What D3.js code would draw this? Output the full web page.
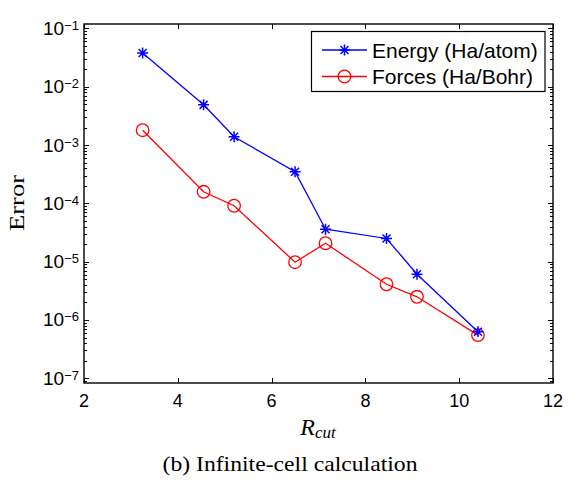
<!DOCTYPE html>
<html>
  <head>
    <meta charset="utf-8">
    <title>Infinite-cell calculation</title>
    <script src="https://d3js.org/d3.v7.min.js"></script>
    <style>
      body { margin: 0; background: #fff; }
      svg { display: block; }
    </style>
  </head>
  <body>
    <script>
      // data
      var rcut = [3.25, 4.55, 5.2, 6.5, 7.15, 8.45, 9.1, 10.4];
      var energyErr = [3.8e-2, 4.9e-3, 1.39e-3, 3.5e-4, 3.6e-5, 2.5e-5, 6.1e-6, 6.3e-7];
      var forceErr = [1.8e-3, 1.58e-4, 9.1e-5, 9.8e-6, 2.07e-5, 4.1e-6, 2.5e-6, 5.5e-7];
      var seriesNames = ["Energy (Ha/atom)", "Forces (Ha/Bohr)"];
      var xTicks = [2, 4, 6, 8, 10, 12];
      var yExponents = [-1, -2, -3, -4, -5, -6, -7];

      var width = 577, height = 482;
      // plot box (window.top is taken, so no bare "top")
      var box = {left: 84, right: 553, top: 24, bottom: 383};
      var sans = "Liberation Sans, Arial, Helvetica, sans-serif";
      var serif = "Liberation Serif, Times New Roman, serif";

      var svg = d3.select("body").append("svg")
        .attr("width", width)
        .attr("height", height);

      var x = d3.scaleLinear().domain([2, 12]).range([box.left, box.right]);
      var y = d3.scaleLog().domain([Math.pow(10, -7.081), Math.pow(10, -0.923)]).range([box.bottom, box.top]);

      // ticks, all pointing inwards like matlab
      var tickG = svg.append("g").attr("stroke", "#000").attr("stroke-width", 1);
      xTicks.forEach(function(t) {
        var px = Math.round(x(t)) + 0.5;
        tickG.append("line").attr("x1", px).attr("x2", px).attr("y1", box.bottom).attr("y2", box.bottom - 5);
        tickG.append("line").attr("x1", px).attr("x2", px).attr("y1", box.top).attr("y2", box.top + 5);
      });
      var minor = [];
      for (var e = -8; e <= -1; e++) {
        for (var m = 1; m < 10; m++) {
          var v = m * Math.pow(10, e);
          if (v >= y.domain()[0] && v <= y.domain()[1]) minor.push({v: v, major: m == 1});
        }
      }
      minor.forEach(function(d) {
        var py = Math.round(y(d.v)) + 0.5;
        var len = d.major ? 5 : 3;
        tickG.append("line").attr("x1", box.left).attr("x2", box.left + len).attr("y1", py).attr("y2", py);
        tickG.append("line").attr("x1", box.right).attr("x2", box.right - len).attr("y1", py).attr("y2", py);
      });

      // frame
      svg.append("rect")
        .attr("x", box.left).attr("y", box.top)
        .attr("width", box.right - box.left).attr("height", box.bottom - box.top)
        .attr("fill", "none").attr("stroke", "#000").attr("stroke-width", 1.4);

      // tick labels
      svg.selectAll(".xlab").data(xTicks).enter().append("text")
        .attr("class", "xlab")
        .attr("x", function(d) { return x(d); })
        .attr("y", box.bottom + 24)
        .attr("text-anchor", "middle")
        .attr("font-family", sans).attr("font-size", 18)
        .text(function(d) { return d; });

      yExponents.forEach(function(ex) {
        var t = svg.append("text")
          .attr("x", 79)
          .attr("y", y(Math.pow(10, ex)) + 6.5)
          .attr("text-anchor", "end")
          .attr("font-family", sans);
        t.append("tspan").attr("font-size", 19).text("10");
        t.append("tspan").attr("font-size", 13).attr("dy", -5).text("\u2212" + (-ex));
      });

      // series
      var energy = rcut.map(function(r, i) { return [r, energyErr[i]]; });
      var forces = rcut.map(function(r, i) { return [r, forceErr[i]]; });
      var line = d3.line().x(function(d) { return x(d[0]); }).y(function(d) { return y(d[1]); });

      function star(g, cx, cy, color) {
        var s = 5.5, k = 4;
        g.append("path")
          .attr("d", "M" + (cx - s) + "," + cy + "H" + (cx + s) +
                     "M" + cx + "," + (cy - s) + "V" + (cy + s) +
                     "M" + (cx - k) + "," + (cy - k) + "L" + (cx + k) + "," + (cy + k) +
                     "M" + (cx - k) + "," + (cy + k) + "L" + (cx + k) + "," + (cy - k))
          .attr("stroke", color).attr("stroke-width", 1.5).attr("fill", "none");
      }
      function circle(g, cx, cy, color) {
        g.append("circle").attr("cx", cx).attr("cy", cy).attr("r", 6.3)
          .attr("fill", "none").attr("stroke", color).attr("stroke-width", 1.3);
      }

      var plot = svg.append("g");
      plot.append("path").datum(forces).attr("d", line)
        .attr("fill", "none").attr("stroke", "#ff0000").attr("stroke-width", 1.3);
      forces.forEach(function(d) { circle(plot, x(d[0]), y(d[1]), "#ff0000"); });
      plot.append("path").datum(energy).attr("d", line)
        .attr("fill", "none").attr("stroke", "#0000ff").attr("stroke-width", 1.3);
      energy.forEach(function(d) { star(plot, x(d[0]), y(d[1]), "#0000ff"); });

      // legend
      var lg = svg.append("g");
      lg.append("rect").attr("x", 311.5).attr("y", 31.5).attr("width", 233.5).attr("height", 60)
        .attr("fill", "#fff").attr("stroke", "#000").attr("stroke-width", 1.2);
      var legendRows = [
        {name: seriesNames[0], color: "#0000ff", mark: star, y: 50},
        {name: seriesNames[1], color: "#ff0000", mark: circle, y: 76.5}
      ];
      legendRows.forEach(function(r) {
        lg.append("line").attr("x1", 322).attr("x2", 367).attr("y1", r.y).attr("y2", r.y)
          .attr("stroke", r.color).attr("stroke-width", 1.3);
        r.mark(lg, 344.5, r.y, r.color);
        lg.append("text").attr("x", 372).attr("y", r.y + 7.5)
          .attr("font-family", sans).attr("font-size", 21)
          .text(r.name);
      });

      // axis labels
      svg.append("text")
        .attr("transform", "translate(24,203) rotate(-90)")
        .attr("text-anchor", "middle")
        .attr("font-family", serif).attr("font-size", 21)
        .attr("textLength", 56).attr("lengthAdjust", "spacingAndGlyphs")
        .text("Error");

      var xl = svg.append("text")
        .attr("x", 318).attr("y", 435)
        .attr("text-anchor", "middle")
        .attr("font-family", serif).attr("font-style", "italic");
      xl.append("tspan").attr("font-size", 24).text("R");
      xl.append("tspan").attr("font-size", 17).attr("dy", 3).text("cut");

      svg.append("text")
        .attr("x", 290).attr("y", 471)
        .attr("text-anchor", "middle")
        .attr("font-family", serif).attr("font-size", 21)
        .attr("textLength", 255).attr("lengthAdjust", "spacingAndGlyphs")
        .text("(b) Infinite-cell calculation");
    </script>
  </body>
</html>
